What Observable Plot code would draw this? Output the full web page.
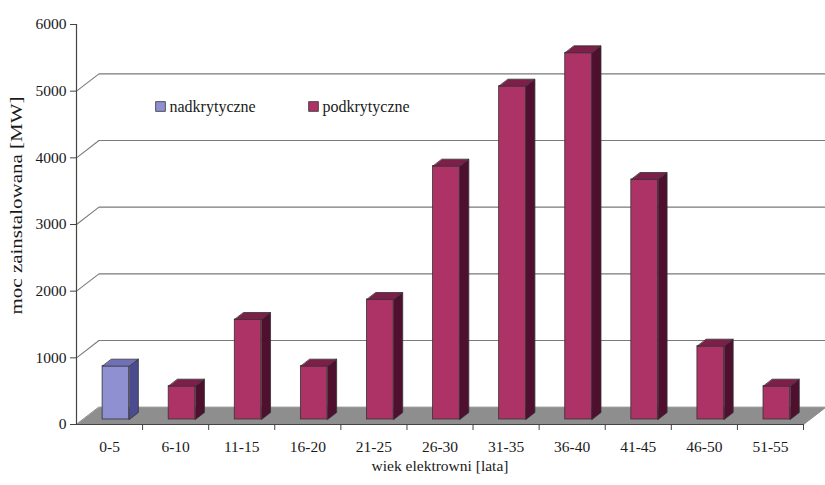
<!DOCTYPE html>
<html>
<head>
<meta charset="utf-8">
<script src="https://cdn.jsdelivr.net/npm/d3@7"></script>
<script src="https://cdn.jsdelivr.net/npm/@observablehq/plot@0.6"></script>
<style>
  body { margin: 0; background: #fff; }
  #chart svg { display: block; }
</style>
</head>
<body>
<div id="chart"></div>
<script>
// ---- data ----
const categories = ["0-5","6-10","11-15","16-20","21-25","26-30","31-35","36-40","41-45","46-50","51-55"];
const values = [800, 500, 1500, 800, 1800, 3800, 5000, 5500, 3600, 1100, 500];
const types = ["nadkrytyczne","podkrytyczne","podkrytyczne","podkrytyczne","podkrytyczne","podkrytyczne","podkrytyczne","podkrytyczne","podkrytyczne","podkrytyczne","podkrytyczne"];
const legendLabels = ["nadkrytyczne","podkrytyczne"];
const yTicks = [0, 1000, 2000, 3000, 4000, 5000, 6000];
const gridValues = [1000, 2000, 3000, 4000, 5000];
const xTitle = "wiek elektrowni [lata]";
const yTitle = "moc zainstalowana [MW]";

// ---- 3D look (style constants, in scale units) ----
const BX = 0.34, BY = 260;        // depth of back wall
const X0 = 0.395, X1 = 0.80;      // bar front face within a band
const DX = 0.136, DY = 105;       // bar depth
const BASE = 75;                  // bar base (floor, at bar depth)
const colors = {
  nadkrytyczne: {front: "#8f90d2", side: "#4b4c90", top: "#6f70b6"},
  podkrytyczne: {front: "#ad3366", side: "#4f102f", top: "#7c1f49"}
};

const bars = categories.map((c, i) => ({c, i, v: values[i], t: types[i]}));

const sides = bars.flatMap(b => [
  {id: b.i, t: b.t, x: b.i + X1, y: BASE},
  {id: b.i, t: b.t, x: b.i + X1 + DX, y: BASE + DY},
  {id: b.i, t: b.t, x: b.i + X1 + DX, y: BASE + b.v + DY},
  {id: b.i, t: b.t, x: b.i + X1, y: BASE + b.v}
]);
const tops = bars.flatMap(b => [
  {id: b.i, t: b.t, x: b.i + X0, y: BASE + b.v},
  {id: b.i, t: b.t, x: b.i + X1, y: BASE + b.v},
  {id: b.i, t: b.t, x: b.i + X1 + DX, y: BASE + b.v + DY},
  {id: b.i, t: b.t, x: b.i + X0 + DX, y: BASE + b.v + DY}
]);
const n = categories.length;
const floor = [
  {x: 0, y: 0}, {x: n, y: 0}, {x: n + BX, y: BY}, {x: BX, y: BY}
];
const grid = gridValues.flatMap(v => [
  {v, x: 0, y: v}, {v, x: BX, y: v + BY}, {v, x: n + BX, y: v + BY}
]);
const boundaries = categories.map((_, i) => i + 1);

const font = "Liberation Serif, Times New Roman, serif";
const edge = "#333";
const ink = "#1a1a1a";

const plot = Plot.plot({
  width: 825,
  height: 485,
  marginTop: 24,
  marginRight: 22,
  marginBottom: 61,
  marginLeft: 76,
  style: {fontFamily: font, fontSize: "15px", color: ink, background: "#fff"},
  x: {domain: [0, n], axis: null},
  y: {domain: [0, 6000], axis: null},
  marks: [
    // floor
    Plot.line(floor, {x: "x", y: "y", curve: "linear-closed", fill: "#8e8e8e", stroke: "#8e8e8e", strokeWidth: 1}),
    // back wall gridlines
    Plot.line(grid, {x: "x", y: "y", z: "v", stroke: "#7a7a7a", strokeWidth: 1.1}),
    // bars: front faces
    Plot.rect(bars, {x1: d => d.i + X0, x2: d => d.i + X1, y1: BASE, y2: d => BASE + d.v,
      fill: d => colors[d.t].front, stroke: edge, strokeWidth: 0.8}),
    // bars: side faces
    Plot.line(sides, {x: "x", y: "y", z: "id", curve: "linear-closed",
      fill: d => colors[d.t].side, stroke: edge, strokeWidth: 0.8}),
    // bars: top faces
    Plot.line(tops, {x: "x", y: "y", z: "id", curve: "linear-closed",
      fill: d => colors[d.t].top, stroke: edge, strokeWidth: 0.8}),
    // axes
    Plot.ruleY([0], {stroke: "#444", strokeWidth: 1.2}),
    Plot.ruleX([0], {y1: 0, y2: 6000, stroke: "#444", strokeWidth: 1.2}),
    Plot.axisY({ticks: yTicks, tickSize: 6, tickPadding: 4, tickFormat: d3.format("d"), label: null,
      stroke: "#444", fill: ink, fontSize: 15.5}),
    Plot.axisX({ticks: boundaries, tickSize: 6, tickFormat: () => "", label: null, stroke: "#444"}),
    Plot.text(categories, {x: (d, i) => i + 0.5, frameAnchor: "bottom", dy: 23, lineAnchor: "middle",
      text: d => d, fill: ink, fontSize: 15.5}),
    // titles
    Plot.text([xTitle], {frameAnchor: "bottom", dy: 42, lineAnchor: "middle", textAnchor: "middle",
      text: d => d, fill: ink, fontSize: 15.5}),
    Plot.text([yTitle], {frameAnchor: "left", dx: -60, dy: -19, rotate: -90, textAnchor: "middle",
      lineAnchor: "middle", text: d => d, fill: ink, fontSize: 16}),
    // legend
    ...legendLabels.map((lab, k) => [
      Plot.dot([lab], {frameAnchor: "top-left", dx: 84 + k * 153, dy: 82, symbol: "square", r: 5.5,
        fill: colors[lab].front, stroke: edge, strokeWidth: 0.8}),
      Plot.text([lab], {frameAnchor: "top-left", dx: 93 + k * 153, dy: 82, text: d => d,
        textAnchor: "start", lineAnchor: "middle", fill: ink, fontSize: 16})
    ]).flat()
  ]
});
// stretch the vertical title to the reference length
d3.select(plot).selectAll("text").filter(function() { return this.textContent === yTitle; })
  .attr("textLength", 218).attr("lengthAdjust", "spacingAndGlyphs");
document.getElementById("chart").appendChild(plot);
</script>
</body>
</html>
